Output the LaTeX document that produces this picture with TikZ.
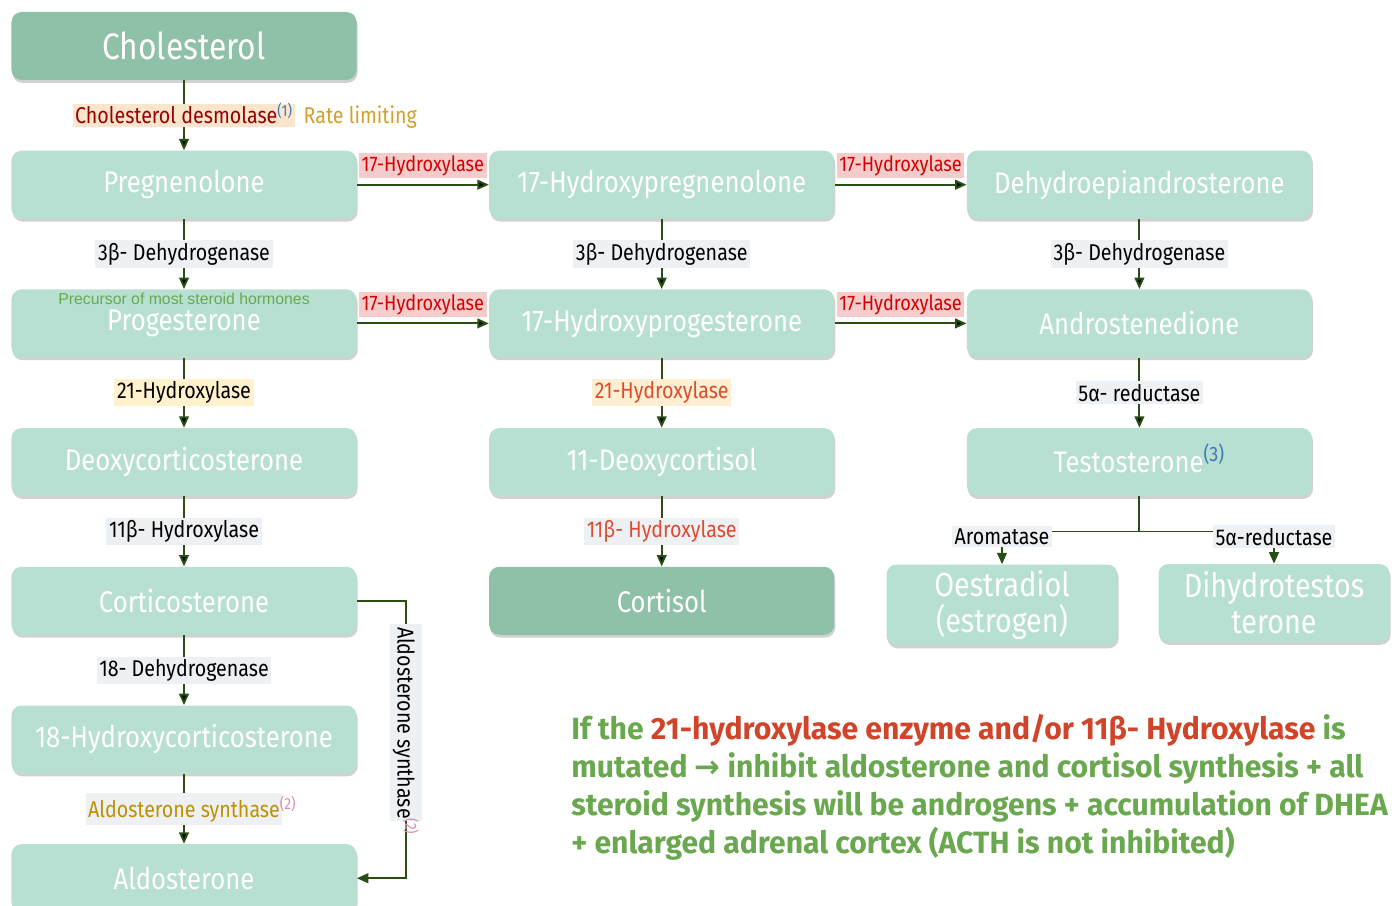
\documentclass[tikz,border=0pt]{standalone}
\usepackage{fontspec}
\setmainfont[FakeStretch=0.86]{Fira Sans}
\newfontfamily\arialfont{Liberation Sans}
\newfontfamily\notefont[FakeStretch=0.98]{Fira Sans}
\newfontfamily\arrowfont{DejaVu Sans}
\usetikzlibrary{positioning,shadows,arrows.meta}
\definecolor{boxlight}{HTML}{B7E0D2}
\definecolor{boxdark}{HTML}{8FC1A9}
\definecolor{flowgreen}{HTML}{274E13}
\definecolor{enzgray}{HTML}{EEF1F4}
\definecolor{pink17}{HTML}{F4CCCC}
\definecolor{red17}{HTML}{D40000}
\definecolor{peach}{HTML}{FCE5CD}
\definecolor{darkred}{HTML}{990000}
\definecolor{cream}{HTML}{FFF2CC}
\definecolor{cream2}{HTML}{FCEFD2}
\definecolor{brick}{HTML}{DD4B30}
\definecolor{gold}{HTML}{BF9000}
\definecolor{ratelim}{HTML}{D1A12A}
\definecolor{refblue}{HTML}{3C78B4}
\definecolor{refpink}{HTML}{D98BB2}
\definecolor{notegreen}{HTML}{6AA84F}
\definecolor{notered}{HTML}{D0452A}
\tikzset{
  mol/.style={rectangle, rounded corners=0.2cm, fill=boxlight, text=white,
    minimum width=6.9cm, minimum height=1.36cm, font=\fontsize{17}{20}\selectfont,
    drop shadow={shadow xshift=0.6pt, shadow yshift=-1.6pt, fill=black, opacity=0.18}},
  flow/.style={draw=flowgreen, line width=1.1pt, -{Triangle[length=6.5pt,width=5.5pt]}},
  enz/.style={fill=enzgray, text=black, inner sep=1.5pt, font=\fontsize{13}{15}\selectfont},
  hyd/.style={enz, fill=pink17, text=red17, font=\fontsize{12}{14}\selectfont},
}
\begin{document}
\begin{tikzpicture}[node distance=1.4cm and 2.64cm]
  \useasboundingbox (0,0) rectangle (27.98,-18.1);
  \node[mol, fill=boxdark, font=\fontsize{21}{24}\selectfont] (chol) at (3.68,-0.92) {Cholesterol};
  \node[mol] (preg)   [below=of chol]   {Pregnenolone};
  \node[mol] (ohpreg) [right=of preg]   {17-Hydroxypregnenolone};
  \node[mol] (dhea)   [right=of ohpreg] {Dehydroepiandrosterone};
  \node[mol] (prog)   [below=of preg]   {Progesterone};
  \node[mol] (ohprog) [below=of ohpreg] {17-Hydroxyprogesterone};
  \node[mol] (andro)  [below=of dhea]   {Androstenedione};
  \node[mol] (doc)    [below=of prog]   {Deoxycorticosterone};
  \node[mol] (deoxyc) [below=of ohprog] {11-Deoxycortisol};
  \node[mol] (testo)  [below=of andro]  {Testosterone\smash{\textsuperscript{\color{refblue}(3)}}};
  \node[mol] (cortico) [below=of doc]   {Corticosterone};
  \node[mol, fill=boxdark] (cortisol) [below=of deoxyc] {Cortisol};
  \node[mol] (ohcort) [below=of cortico] {18-Hydroxycorticosterone};
  \node[mol] (aldo)   [below=of ohcort] {Aldosterone};
  \node[mol, minimum width=4.62cm, minimum height=1.56cm, align=center,
        font=\fontsize{19}{20.5}\selectfont] (oest) at (20.04,-12.1) {Oestradiol\\(estrogen)};
  \node[mol, minimum width=4.62cm, minimum height=1.56cm, align=center,
        font=\fontsize{19}{20.5}\selectfont] (dht) at (25.48,-12.06) {Dihydrotestos\\terone};
  \node[text=notegreen, font=\arialfont\fontsize{9}{10}\selectfont] (prec)
        at ([yshift=-0.2cm]prog.north) {Precursor of most steroid hormones};
  \path[flow]
    (chol) edge node[enz, fill=peach, text=darkred] (desm)
           {Cholesterol desmolase\smash{\textsuperscript{\color{refblue}(1)}}} (preg)
    (preg) edge node[enz] {3β- Dehydrogenase} (prog)
           edge node[hyd, above=3pt] {17-Hydroxylase} (ohpreg)
    (ohpreg) edge node[enz] {3β- Dehydrogenase} (ohprog)
             edge node[hyd, above=3pt] {17-Hydroxylase} (dhea)
    (dhea) edge node[enz] {3β- Dehydrogenase} (andro)
    (prog) edge node[enz, fill=cream] {21-Hydroxylase} (doc)
           edge node[hyd, above=3pt] {17-Hydroxylase} (ohprog)
    (ohprog) edge node[enz, fill=cream2, text=brick] {21-Hydroxylase} (deoxyc)
             edge node[hyd, above=3pt] {17-Hydroxylase} (andro)
    (andro) edge node[enz] {5α- reductase} (testo)
    (doc) edge node[enz] {11β- Hydroxylase} (cortico)
    (deoxyc) edge node[enz, text=brick] {11β- Hydroxylase} (cortisol)
    (cortico) edge node[enz] {18- Dehydrogenase} (ohcort)
    (ohcort) edge node[enz, text=gold]
             {Aldosterone synthase\rlap{\textsuperscript{\color{refpink}(2)}}} (aldo);
  \node[text=ratelim, font=\fontsize{13}{15}\selectfont, base right=0.02cm of desm] (rate) {Rate limiting};
  \draw[flow] (testo.south) -- ++(0,-0.7) coordinate (split)
    -| node[enz, pos=0.5, yshift=-3pt] {Aromatase} (oest);
  \draw[flow] (split) -| node[enz, pos=0.5, yshift=-3pt] {5α-reductase} (dht);
  \draw[flow] (cortico.east) -- ++(0.98,0)
    |- node[enz, rotate=-90, pos=0.22] {Aldosterone synthase\rlap{\textsuperscript{\color{refpink}(2)}}} (aldo.east);
  \node[anchor=north west, inner sep=0, align=left, text=notegreen,
        font=\notefont\bfseries\fontsize{17.5}{21.7}\selectfont] (note) at (11.42,-14.28)
    {If the {\color{notered}21-hydroxylase enzyme and/or 11β- Hydroxylase} is\\
     mutated {\arrowfont →} inhibit aldosterone and cortisol synthesis + all\\
     steroid synthesis will be androgens + accumulation of DHEA\\
     + enlarged adrenal cortex (ACTH is not inhibited)};
\end{tikzpicture}
\end{document}
